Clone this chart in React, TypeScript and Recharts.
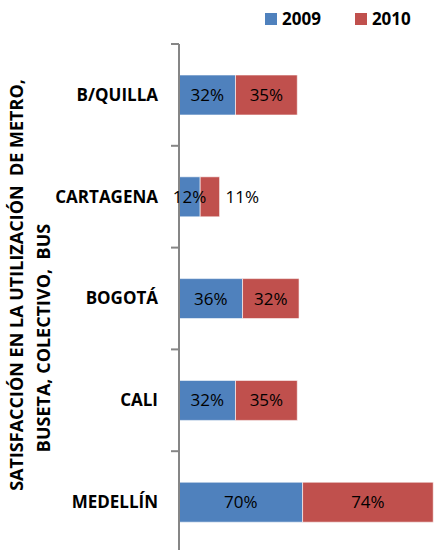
import React from "react";
import { BarChart, Bar, XAxis, YAxis, LabelList } from "recharts";

const categories = ["B/QUILLA", "CARTAGENA", "BOGOTÁ", "CALI", "MEDELLÍN"];
const values2009 = [32, 12, 36, 32, 70];
const values2010 = [35, 11, 32, 35, 74];
const seriesNames = ["2009", "2010"];
const titleLines = ["SATISFACCIÓN EN LA UTILIZACIÓN  DE METRO,", "BUSETA, COLECTIVO,  BUS"];

const data = categories.map((city, i) => ({
  city,
  v2009: values2009[i],
  v2010: values2010[i],
}));

const W = 435;
const H = 550;
// the plot runs a little past the bottom edge, like the cropped original
const CHART_H = 553;
const TOP = 44;
const AXIS_X = 179;
const BAND = (CHART_H - TOP) / categories.length;
const BLUE = "#4F81BD";
const RED = "#C0504D";
const GREY = "#868686";
const FONT = "'Open Sans', sans-serif";

// category label plus the Excel-style tick marks between categories
const CityTick = (props: any) => {
  const { y, payload, index } = props;
  return (
    <g>
      <line x1={AXIS_X - 8} x2={AXIS_X} y1={y - BAND / 2} y2={y - BAND / 2} stroke={GREY} strokeWidth={2} />
      {index === categories.length - 1 && (
        <line x1={AXIS_X - 8} x2={AXIS_X} y1={y + BAND / 2} y2={y + BAND / 2} stroke={GREY} strokeWidth={2} />
      )}
      <text x={AXIS_X - 21} y={y} dy="0.35em" textAnchor="end" fontFamily={FONT} fontWeight="bold" fontSize={17} fill="#000">
        {payload.value}
      </text>
    </g>
  );
};

const segLabel = (outsideIfSmall: boolean) => (props: any) => {
  const { x, y, width, height, value } = props;
  const outside = outsideIfSmall && width < 25;
  return (
    <text
      x={outside ? x + width + 6 : x + width / 2}
      y={y + height / 2}
      dy="0.35em"
      textAnchor={outside ? "start" : "middle"}
      fontFamily={FONT}
      fontSize={17}
      fill="#000"
    >
      {value}%
    </text>
  );
};

export default function App() {
  return (
    <div style={{ position: "absolute", left: 0, top: 0, width: W, height: H, overflow: "hidden", background: "#fff" }}>
      <BarChart width={W} height={CHART_H} data={data} layout="vertical" margin={{ top: TOP, right: 0, bottom: 0, left: 0 }}>
        <XAxis type="number" domain={[0, 145]} hide />
        <YAxis
          type="category"
          dataKey="city"
          width={AXIS_X}
          axisLine={{ stroke: GREY, strokeWidth: 2 }}
          tickLine={false}
          tick={<CityTick />}
          interval={0}
        />
        <Bar dataKey="v2009" stackId="a" fill={BLUE} barSize={40} stroke="#ffffff" strokeWidth={0.6} isAnimationActive={false}>
          <LabelList dataKey="v2009" content={segLabel(false)} />
        </Bar>
        <Bar dataKey="v2010" stackId="a" fill={RED} barSize={40} stroke="#ffffff" strokeWidth={0.6} isAnimationActive={false}>
          <LabelList dataKey="v2010" content={segLabel(true)} />
        </Bar>
      </BarChart>

      <svg width={70} height={H} style={{ position: "absolute", left: 0, top: 0 }}>
        <text
          transform="translate(17,285) rotate(-90)"
          textAnchor="middle"
          dy="0.35em"
          fontFamily={FONT}
          fontWeight="bold"
          fontSize={18}
          style={{ whiteSpace: "pre" }}
        >
          {titleLines[0]}
        </text>
        <text
          transform="translate(44,338) rotate(-90)"
          textAnchor="middle"
          dy="0.35em"
          fontFamily={FONT}
          fontWeight="bold"
          fontSize={18}
          style={{ whiteSpace: "pre" }}
        >
          {titleLines[1]}
        </text>
      </svg>

      <div style={{ position: "absolute", left: 265, top: 7, display: "flex", alignItems: "center", fontFamily: FONT, fontWeight: "bold", fontSize: 17 }}>
        {seriesNames.map((name, i) => (
          <div key={name} style={{ display: "flex", alignItems: "center", marginRight: i === 0 ? 34 : 0 }}>
            <span style={{ width: 12, height: 12, background: i === 0 ? BLUE : RED, display: "inline-block", marginRight: 5 }} />
            <span>{name}</span>
          </div>
        ))}
      </div>
    </div>
  );
}
